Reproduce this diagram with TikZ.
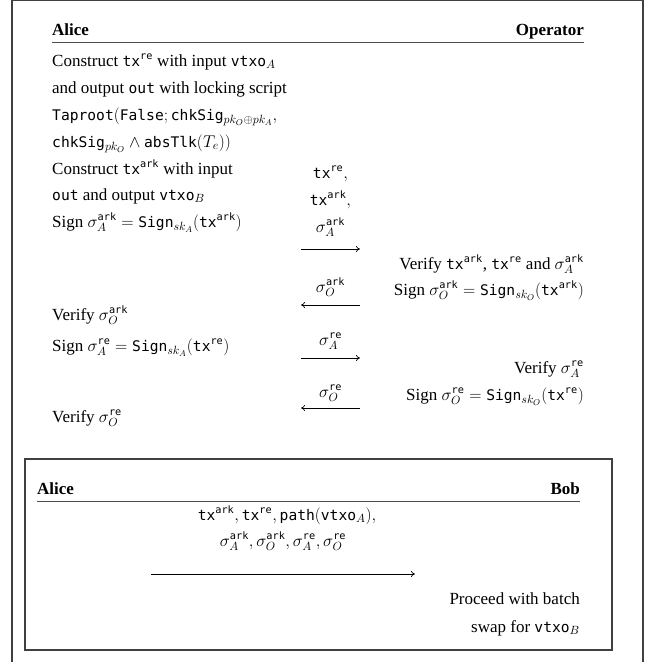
\RequirePackage{fix-cm}
\documentclass[tikz,border=0pt]{standalone}
\usepackage{fontspec}
\setmainfont{Liberation Serif}
\setmonofont{DejaVu Sans Mono}[Scale=0.86]
\usetikzlibrary{arrows.meta}
\newcommand{\mt}[1]{\mathtt{#1}}
\newcommand{\txre}{\mt{tx}^{\mt{re}}}
\newcommand{\txark}{\mt{tx}^{\mt{ark}}}
\begin{document}
\begin{tikzpicture}[x=1pt,y=-1pt,
  every node/.style={inner sep=0pt,font=\fontsize{17pt}{20pt}\selectfont},
  lft/.style={anchor=base west},
  rgt/.style={anchor=base east},
  mid/.style={anchor=base},
  hdr/.style={font=\fontsize{17pt}{20pt}\selectfont\bfseries},
  rulel/.style={draw=black!70,line width=0.9pt},
  frame/.style={draw=black!75,line width=1.2pt},
  msg/.style={draw=black,line width=0.7pt,-{To[length=4pt,width=6pt]}}]
\useasboundingbox (0,0) rectangle (651,662);
% outer frame
\draw[frame] (12,663) -- (12,0.6) -- (643,0.6) -- (643,663);
% headers
\node[lft,hdr] (hA) at (52,35) {Alice};
\node[rgt,hdr] (hO) at (584,35) {Operator};
\draw[rulel] (52,42) -- (584,42);
% Alice column
\node[lft] (a1) at (52,66) {Construct $\txre$ with input $\mt{vtxo}_A$};
\node[lft] (a2) at (52,93) {and output $\mt{out}$ with locking script};
\node[lft] (a3) at (52,120) {$\mt{Taproot}(\mt{False};\mt{chkSig}_{pk_O\oplus pk_A},$};
\node[lft] (a4) at (52,147) {$\mt{chkSig}_{pk_O}\wedge\mt{absTlk}(T_e))$};
\node[lft] (a5) at (52,174) {Construct $\txark$ with input};
\node[lft] (a6) at (52,200) {$\mt{out}$ and output $\mt{vtxo}_B$};
\node[lft] (a7) at (52,227) {Sign $\sigma_A^{\mt{ark}}=\mt{Sign}_{sk_A}(\txark)$};
\node[lft] (a8) at (52,320) {Verify $\sigma_O^{\mt{ark}}$};
\node[lft] (a9) at (52,351) {Sign $\sigma_A^{\mt{re}}=\mt{Sign}_{sk_A}(\txre)$};
\node[lft] (a10) at (52,422) {Verify $\sigma_O^{\mt{re}}$};
% Operator column
\node[rgt] (o1) at (584,269) {Verify $\txark$, $\txre$ and $\sigma_A^{\mt{ark}}$};
\node[rgt] (o2) at (584,295) {Sign $\sigma_O^{\mt{ark}}=\mt{Sign}_{sk_O}(\txark)$};
\node[rgt] (o3) at (584,373) {Verify $\sigma_A^{\mt{re}}$};
\node[rgt] (o4) at (584,400) {Sign $\sigma_O^{\mt{re}}=\mt{Sign}_{sk_O}(\txre)$};
% messages
\node[mid] (m1a) at (330.5,178) {$\txre,$};
\node[mid] (m1b) at (330.5,205) {$\txark,$};
\node[mid] (m1c) at (330.5,232) {$\sigma_A^{\mt{ark}}$};
\coordinate (p1l) at (301,249); \coordinate (p1r) at (360,249);
\draw[msg] (p1l) -- (p1r);
\node[mid] (m2) at (330.5,292) {$\sigma_O^{\mt{ark}}$};
\coordinate (p2l) at (301,305); \coordinate (p2r) at (360,305);
\draw[msg] (p2r) -- (p2l);
\node[mid] (m3) at (330.5,345) {$\sigma_A^{\mt{re}}$};
\coordinate (p3l) at (301,358); \coordinate (p3r) at (360,358);
\draw[msg] (p3l) -- (p3r);
\node[mid] (m4) at (330.5,397) {$\sigma_O^{\mt{re}}$};
\coordinate (p4l) at (301,408); \coordinate (p4r) at (360,408);
\draw[msg] (p4r) -- (p4l);
% inner box
\draw[frame] (25,459) rectangle (612,650);
\node[lft,hdr] (bA) at (37,494) {Alice};
\node[rgt,hdr] (bB) at (580,494) {Bob};
\draw[rulel] (37,501) -- (580,501);
\node[mid] (n1) at (287,520) {$\txark,\txre,\mt{path}(\mt{vtxo}_A),$};
\node[mid] (n2) at (283,546) {$\sigma_A^{\mt{ark}},\sigma_O^{\mt{ark}},\sigma_A^{\mt{re}},\sigma_O^{\mt{re}}$};
\coordinate (q1) at (151,574); \coordinate (q2) at (415,574);
\draw[msg] (q1) -- (q2);
\node[rgt] (b1) at (580,604) {Proceed with batch};
\node[rgt] (b2) at (580,632) {swap for $\mt{vtxo}_B$};
\end{tikzpicture}
\end{document}
